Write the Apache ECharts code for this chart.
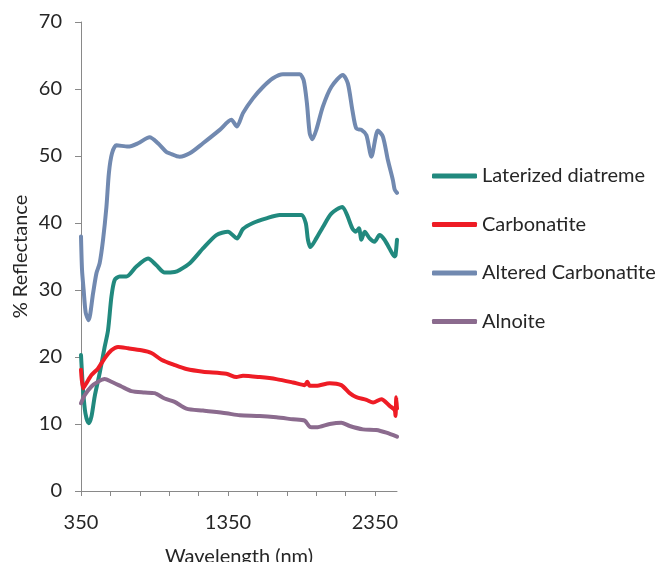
<!DOCTYPE html>
<html>
<head>
<meta charset="utf-8">
<script src="https://cdn.jsdelivr.net/npm/echarts@6/dist/echarts.min.js"></script>
<style>
  html, body { margin: 0; padding: 0; background: #fff; }
  #chart { width: 659px; height: 562px; }
</style>
</head>
<body>
<div id="chart"></div>
<script>
// wavelength (nm) / reflectance (%) pairs
const lateritWl = [350, 364, 380, 402, 421, 443, 477, 511, 534, 557, 579, 613, 659, 727, 806, 863, 919, 987, 1021, 1090, 1180, 1271, 1350, 1411, 1452, 1520, 1611, 1702, 1849, 1879, 1894, 1911, 1951, 1996, 2053, 2128, 2160, 2196, 2219, 2241, 2258, 2280, 2314, 2347, 2381, 2415, 2449, 2484, 2490, 2500]
const lateritVal = [20.3, 15.1, 11.6, 10.1, 11.1, 14.1, 17.6, 21.5, 24.0, 29.0, 31.5, 32.0, 32.0, 33.5, 34.7, 33.7, 32.6, 32.7, 33.0, 34.0, 36.2, 38.2, 38.7, 37.7, 39.1, 40.0, 40.7, 41.2, 41.2, 40.0, 37.5, 36.4, 37.7, 39.4, 41.4, 42.4, 41.2, 39.2, 38.7, 39.2, 37.5, 38.7, 37.7, 37.2, 38.2, 37.5, 36.2, 35.0, 35.2, 37.5]

const carbWl = [350, 364, 387, 421, 466, 511, 557, 602, 670, 761, 829, 897, 987, 1067, 1180, 1339, 1407, 1452, 1566, 1679, 1792, 1872, 1890, 1906, 1951, 2042, 2121, 2178, 2223, 2292, 2337, 2394, 2450, 2484, 2490, 2495, 2500]
const carbVal = [18.1, 15.3, 16.1, 17.3, 18.3, 19.8, 21.0, 21.5, 21.3, 21.0, 20.6, 19.6, 18.8, 18.2, 17.8, 17.5, 17.0, 17.2, 17.0, 16.7, 16.2, 15.8, 16.3, 15.7, 15.7, 16.1, 15.8, 14.6, 14.0, 13.6, 13.2, 13.7, 12.7, 12.1, 11.2, 14.0, 12.3]

const alteredWl = [350, 357, 368, 382, 402, 432, 455, 477, 500, 523, 540, 561, 591, 670, 738, 817, 874, 931, 953, 1021, 1090, 1180, 1294, 1373, 1411, 1452, 1520, 1588, 1656, 1724, 1838, 1865, 1887, 1906, 1924, 1951, 1996, 2053, 2132, 2166, 2196, 2223, 2258, 2292, 2326, 2370, 2404, 2438, 2472, 2484, 2500]
const alteredVal = [38.0, 33.0, 30.0, 26.6, 25.5, 29.5, 32.5, 34.0, 37.5, 42.4, 47.5, 50.4, 51.6, 51.4, 51.9, 52.8, 51.9, 50.6, 50.4, 49.9, 50.4, 51.9, 53.9, 55.4, 54.4, 56.4, 58.6, 60.3, 61.6, 62.2, 62.2, 61.3, 57.9, 53.4, 52.5, 53.9, 57.4, 60.3, 62.1, 60.8, 56.9, 54.1, 53.9, 53.1, 49.9, 53.8, 52.9, 49.4, 46.4, 45.0, 44.5]

const alnoiteWl = [350, 375, 421, 466, 511, 557, 625, 693, 783, 851, 919, 987, 1067, 1180, 1339, 1430, 1566, 1679, 1792, 1872, 1906, 1951, 2042, 2121, 2178, 2268, 2359, 2428, 2500]
const alnoiteVal = [13.1, 14.3, 15.6, 16.3, 16.7, 16.3, 15.6, 14.9, 14.7, 14.6, 13.8, 13.3, 12.3, 12.0, 11.6, 11.3, 11.2, 11.0, 10.7, 10.5, 9.6, 9.5, 10.0, 10.2, 9.7, 9.2, 9.1, 8.7, 8.1]

const seriesNames = ['Laterized diatreme', 'Carbonatite', 'Altered Carbonatite', 'Alnoite']
const xTicks = [350, 550, 750, 950, 1150, 1350, 1550, 1750, 1950, 2150, 2350]
const xLabels = [350, 1350, 2350]

const colors = ['#21897e', '#ee1c25', '#7189b0', '#8b6b8e']
const font = 'Lato, "Open Sans", sans-serif'
const textColor = '#262626'

const zip = (xs, ys) => xs.map((x, i) => [x, ys[i]])
const allData = [
  zip(lateritWl, lateritVal),
  zip(carbWl, carbVal),
  zip(alteredWl, alteredVal),
  zip(alnoiteWl, alnoiteVal)
]

const chart = echarts.init(document.getElementById('chart'))

const series = seriesNames.map((name, i) => ({
  name,
  type: 'line',
  data: allData[i],
  symbol: 'none',
  smooth: 0.25,
  color: colors[i],
  lineStyle: { width: 4, color: colors[i], cap: 'round', join: 'round' }
}))

const axisGray = '#898989'

chart.setOption({
  animation: false,
  grid: { left: 81, right: 262, top: 22, bottom: 71, outerBoundsMode: 'none', containLabel: false },
  legend: {
    orient: 'vertical',
    left: 432,
    top: 165,
    padding: 0,
    icon: 'roundRect',
    itemWidth: 45,
    itemHeight: 5,
    itemGap: 26.5,
    data: seriesNames,
    textStyle: { fontFamily: font, fontSize: 20, lineHeight: 22, color: textColor }
  },
  xAxis: {
    type: 'value',
    min: 350,
    max: 2500,
    interval: 200,
    name: 'Wavelength (nm)',
    nameLocation: 'middle',
    nameGap: 56,
    nameTextStyle: { fontFamily: font, fontSize: 20, color: textColor },
    splitLine: { show: false },
    axisLine: { show: true, lineStyle: { color: axisGray, width: 1 } },
    axisTick: { show: true, length: 5, customValues: xTicks, lineStyle: { color: axisGray } },
    axisLabel: {
      customValues: xLabels,
      formatter: v => String(v),
      margin: 22,
      fontFamily: font,
      fontSize: 20,
      color: textColor
    }
  },
  yAxis: {
    type: 'value',
    min: 0,
    max: 70,
    interval: 10,
    name: '% Reflectance',
    nameLocation: 'middle',
    nameGap: 50,
    nameTextStyle: { fontFamily: font, fontSize: 20, color: textColor },
    splitLine: { show: false },
    axisLine: { show: true, lineStyle: { color: axisGray, width: 1 } },
    axisTick: { show: true, length: 6, lineStyle: { color: axisGray } },
    axisLabel: { margin: 19, fontFamily: font, fontSize: 20, color: textColor }
  },
  series
})
</script>
</body>
</html>
